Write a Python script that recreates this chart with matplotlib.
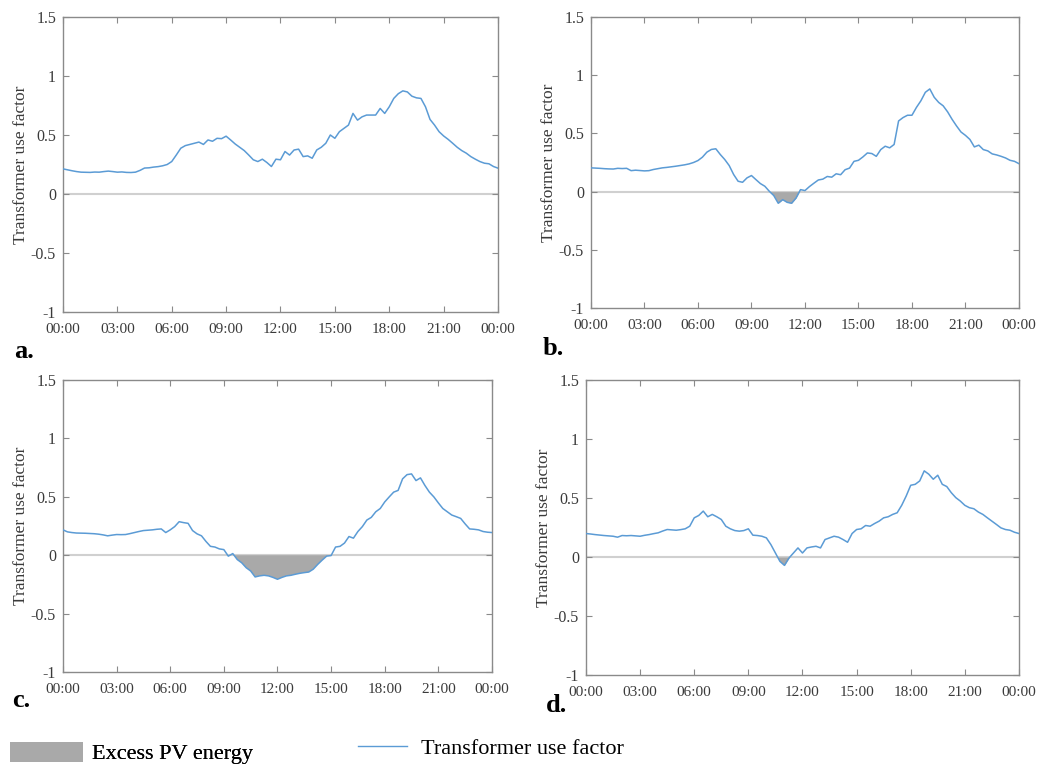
import numpy as np
import matplotlib
matplotlib.use('Agg')
import matplotlib.pyplot as plt
from matplotlib.patches import Patch
from matplotlib.lines import Line2D

plt.rcParams['font.family'] = ['Liberation Serif', 'DejaVu Serif']

lineblue = '#5b9bd5'
fillgrey = '#a9a9a9'
axgrey = '#8a8a8a'
txtgrey = '#3a3a3a'

# 15-minute samples, 00:00 -> 24:00
hours = np.arange(97) * 0.25

use_a = [0.213, 0.205, 0.197, 0.190, 0.185, 0.184, 0.183, 0.186, 0.185, 0.190, 0.194, 0.190,
         0.185, 0.187, 0.183, 0.182, 0.185, 0.200, 0.220, 0.222, 0.228, 0.232, 0.239, 0.250,
         0.275, 0.330, 0.388, 0.410, 0.420, 0.430, 0.440, 0.420, 0.458, 0.447, 0.472, 0.469,
         0.490, 0.458, 0.424, 0.396, 0.368, 0.330, 0.290, 0.275, 0.295, 0.267, 0.233, 0.295,
         0.290, 0.360, 0.330, 0.373, 0.380, 0.317, 0.323, 0.303, 0.373, 0.396, 0.430, 0.500,
         0.472, 0.528, 0.556, 0.584, 0.683, 0.626, 0.654, 0.669, 0.669, 0.669, 0.725, 0.683,
         0.739, 0.810, 0.850, 0.874, 0.865, 0.829, 0.815, 0.810, 0.739, 0.632, 0.584, 0.528,
         0.492, 0.463, 0.430, 0.396, 0.368, 0.346, 0.317, 0.295, 0.275, 0.261, 0.256, 0.233,
         0.219]

use_b = [0.204, 0.202, 0.200, 0.197, 0.195, 0.194, 0.200, 0.198, 0.200, 0.180, 0.184, 0.181,
         0.178, 0.180, 0.190, 0.197, 0.204, 0.208, 0.213, 0.218, 0.224, 0.230, 0.238, 0.250,
         0.267, 0.296, 0.339, 0.362, 0.368, 0.319, 0.276, 0.224, 0.147, 0.089, 0.080, 0.118,
         0.138, 0.103, 0.069, 0.046, 0.003, -0.034, -0.100, -0.069, -0.092, -0.100, -0.055, 0.017,
         0.009, 0.043, 0.072, 0.100, 0.107, 0.130, 0.124, 0.153, 0.145, 0.188, 0.202, 0.260,
         0.269, 0.298, 0.332, 0.327, 0.303, 0.361, 0.390, 0.376, 0.405, 0.607, 0.636, 0.656,
         0.656, 0.723, 0.780, 0.853, 0.882, 0.810, 0.766, 0.737, 0.685, 0.621, 0.564, 0.512,
         0.483, 0.448, 0.384, 0.399, 0.361, 0.350, 0.324, 0.315, 0.303, 0.289, 0.269, 0.260,
         0.240]

use_c = [0.217, 0.200, 0.194, 0.190, 0.189, 0.188, 0.186, 0.184, 0.180, 0.174, 0.166, 0.172,
         0.177, 0.176, 0.177, 0.185, 0.194, 0.203, 0.211, 0.214, 0.217, 0.222, 0.225, 0.194,
         0.217, 0.245, 0.287, 0.279, 0.273, 0.211, 0.183, 0.166, 0.118, 0.076, 0.070, 0.054,
         0.048, -0.008, 0.014, -0.037, -0.065, -0.107, -0.135, -0.186, -0.177, -0.172, -0.177, -0.190,
         -0.206, -0.190, -0.177, -0.172, -0.163, -0.155, -0.149, -0.144, -0.120, -0.079, -0.042, -0.008,
         -0.003, 0.070, 0.076, 0.104, 0.160, 0.146, 0.203, 0.245, 0.301, 0.324, 0.372, 0.400,
         0.456, 0.499, 0.540, 0.555, 0.654, 0.690, 0.696, 0.639, 0.662, 0.597, 0.540, 0.499,
         0.448, 0.400, 0.372, 0.344, 0.330, 0.315, 0.268, 0.225, 0.222, 0.217, 0.203, 0.197,
         0.194]

use_d = [0.199, 0.195, 0.190, 0.186, 0.182, 0.179, 0.176, 0.168, 0.182, 0.180, 0.182, 0.179,
         0.176, 0.184, 0.190, 0.198, 0.205, 0.220, 0.233, 0.230, 0.227, 0.232, 0.239, 0.261,
         0.332, 0.352, 0.389, 0.341, 0.361, 0.341, 0.318, 0.261, 0.239, 0.224, 0.219, 0.224,
         0.239, 0.185, 0.182, 0.176, 0.162, 0.105, 0.034, -0.037, -0.071, -0.009, 0.034, 0.077,
         0.034, 0.077, 0.085, 0.091, 0.077, 0.148, 0.162, 0.176, 0.168, 0.148, 0.125, 0.199,
         0.233, 0.239, 0.267, 0.261, 0.284, 0.304, 0.332, 0.341, 0.361, 0.375, 0.438, 0.517,
         0.608, 0.616, 0.645, 0.730, 0.702, 0.659, 0.693, 0.616, 0.597, 0.545, 0.503, 0.474,
         0.438, 0.418, 0.409, 0.381, 0.361, 0.332, 0.304, 0.276, 0.247, 0.233, 0.227, 0.210,
         0.199]

xtick_hours = [0, 3, 6, 9, 12, 15, 18, 21, 24]
xtick_labels = ['00:00', '03:00', '06:00', '09:00', '12:00', '15:00', '18:00', '21:00', '00:00']
ytick_vals = [-1, -0.5, 0, 0.5, 1, 1.5]
ytick_labels = ['-1', '-0.5', '0', '0.5', '1', '1.5']

fig = plt.figure(figsize=(10.39, 7.66), dpi=100)

panels = [
    (use_a, 'a.', [0.0606, 0.5927, 0.4187, 0.3851], (14, 358)),
    (use_b, 'b.', [0.5688, 0.5979, 0.4119, 0.3799], (543, 355)),
    (use_c, 'c.', [0.0606, 0.1227, 0.4129, 0.3812], (12, 707)),
    (use_d, 'd.', [0.5640, 0.1188, 0.4167, 0.3851], (546, 712)),
]

for vals, letter, rect, (lx, ly) in panels:
    y = np.array(vals)
    ax = fig.add_axes(rect)
    ax.axhline(0, color='#d0d0d0', lw=1.5, zorder=1)
    ax.fill_between(hours, y, 0, where=y < 0, interpolate=True,
                    color=fillgrey, lw=0, zorder=2)
    ax.plot(hours, y, color=lineblue, lw=1.1, zorder=3)
    ax.set_xlim(0, 24)
    ax.set_ylim(-1, 1.5)
    ax.set_xticks(xtick_hours)
    ax.set_xticklabels(xtick_labels)
    ax.set_yticks(ytick_vals)
    ax.set_yticklabels(ytick_labels)
    ax.tick_params(direction='in', top=True, right=True, length=4, width=0.8,
                   color=axgrey, labelcolor=txtgrey)
    ax.tick_params(axis='x', pad=8, labelsize=11)
    ax.tick_params(axis='y', pad=5, labelsize=11.5)
    for s in ax.spines.values():
        s.set_color(axgrey)
        s.set_linewidth(1.0)
    ax.set_ylabel('Transformer use factor', fontsize=12.5, color=txtgrey, labelpad=1)
    fig.text(lx / 1039, 1 - ly / 766, letter, fontsize=19, fontweight='bold',
             ha='left', va='baseline', color='black')

leg1 = fig.legend([Patch(facecolor=fillgrey, edgecolor='none')], ['Excess PV energy'],
                  loc='center left', bbox_to_anchor=(10 / 1039, 1 - 753 / 766),
                  frameon=False, fontsize=16, handlelength=3.3, handleheight=1.05,
                  handletextpad=0.4, borderpad=0, borderaxespad=0)
fig.add_artist(leg1)
fig.legend([Line2D([], [], color=lineblue, lw=1.0)], ['Transformer use factor'],
           loc='center left', bbox_to_anchor=(358 / 1039, 1 - 749 / 766),
           frameon=False, fontsize=16, handlelength=2.2,
           handletextpad=0.65, borderpad=0, borderaxespad=0)

fig.savefig('out.png', dpi=100)
